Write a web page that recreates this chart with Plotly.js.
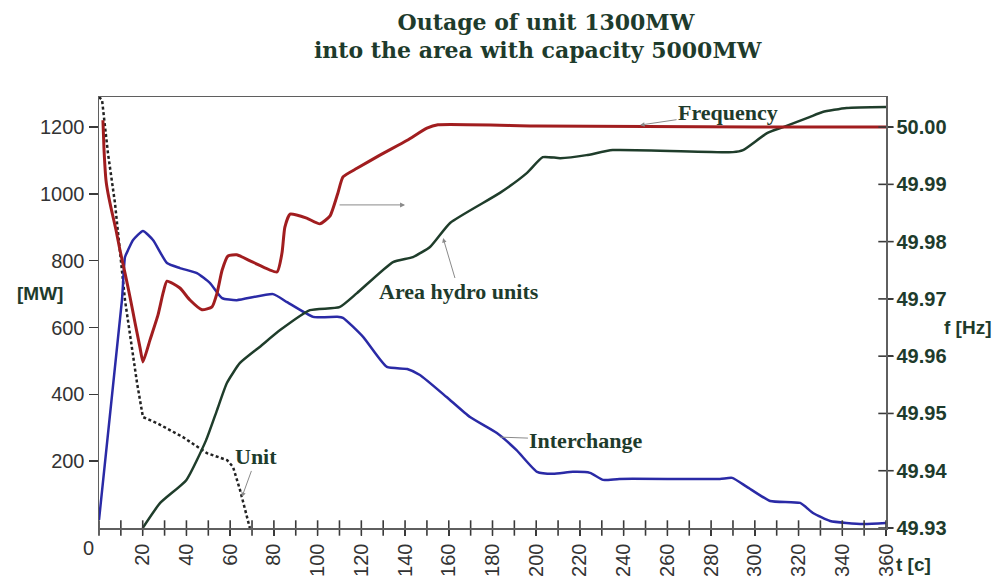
<!DOCTYPE html>
<html><head><meta charset="utf-8">
<script src="https://cdn.plot.ly/plotly-3.0.1.min.js"></script>
<style>html,body{margin:0;padding:0;background:#fff}#chart{width:1001px;height:587px}</style>
</head><body><div id="chart"></div>
<script>
// ---- data (time in s, power in MW, frequency in Hz) ----
const unitT  = [0, 1.4, 4.1, 7.3, 11.9, 17.4, 20.1, 26.5, 38.4, 49.4, 58.6, 61.3, 64.5, 69];
const unitMW = [1290, 1281, 1122, 973, 682, 434, 332, 314, 272, 224, 203, 183, 114, 0];

const interT  = [0, 10.5, 11.9, 13.3, 15.6, 20.1, 24.7, 31.1, 37, 44.8, 50.8, 56.3, 63, 79.6, 86, 98, 109, 111.6, 120.8, 131.7, 141, 146.8, 159, 169.7, 182, 191, 200.4, 207.7, 216.8, 224.6, 230.6, 238, 284, 289.6, 296.4, 307, 320.7, 326.6, 334.4, 349.5, 360];
const interMW = [24, 682, 811, 832, 862, 889, 862, 793, 778, 763, 733, 688, 682, 700, 676, 632, 632, 629, 572, 482, 476, 458, 392, 332, 284, 233, 168, 162, 168, 165, 144, 147, 147, 150, 123, 81, 75, 45, 21, 12, 15];

const hydroT  = [20, 28, 40, 49, 54, 58.5, 64.5, 73.5, 83, 96.5, 110, 118, 134.5, 143.6, 151.4, 160.6, 183.4, 195.8, 203, 211, 223, 235, 290, 294.6, 305.6, 313, 325, 331, 342, 360];
const hydroMW = [0, 75, 144, 263, 353, 434, 494, 542, 593, 652, 661, 703, 796, 811, 841, 913, 1003, 1063, 1110, 1107, 1116, 1131, 1125, 1131, 1182, 1200, 1230, 1245, 1257, 1260];

const freqT  = [1.8, 2.3, 3.2, 4.1, 5.9, 7.8, 9.6, 11.9, 14.2, 16.5, 18.8, 20.1, 23.3, 27, 29.3, 31.1, 37, 41.6, 47.1, 51.7, 54, 56.3, 59, 63, 70.4, 81.4, 83.7, 85, 87.4, 95, 101, 105.7, 109.3, 111.6, 118, 128.5, 141, 150, 155, 200, 250, 300, 360];
const freqHz = [50.0012, 49.9960, 49.9907, 49.9885, 49.9852, 49.9820, 49.9785, 49.9745, 49.9703, 49.9658, 49.9614, 49.9590, 49.9628, 49.9672, 49.9710, 49.9731, 49.9719, 49.9698, 49.9681, 49.9686, 49.9710, 49.9750, 49.9775, 49.9777, 49.9764, 49.9747, 49.9780, 49.9825, 49.9848, 49.9841, 49.9831, 49.9845, 49.9885, 49.9913, 49.9928, 49.9951, 49.9977, 49.9998, 50.0004, 50.0002, 50.0001, 50.0000, 50.0000];

// ---- axis ticks ----
const xTicks = [20,40,60,80,100,120,140,160,180,200,220,240,260,280,300,320,340,360];
const xMinor = [0,10,20,30,40,50,60,70,80,90,100,110,120,130,140,150,160,170,180,190,200,210,220,230,240,250,260,270,280,290,300,310,320,330,340,350,360];
const yTicks = [200,400,600,800,1000,1200];
const fTicks = [49.93,49.94,49.95,49.96,49.97,49.98,49.99,50.00];
const fTickText = ['49.93','49.94','49.95','49.96','49.97','49.98','49.99','50.00'];

// ---- styling ----
const RED = '#a11d1f', BLUE = '#2a2aa6', GREEN = '#1f3d2b', BLACK = '#222222';
const SERIF = 'Liberation Serif, Times New Roman, serif';
const TSERIF = 'DejaVu Serif, Liberation Serif, serif';
const SANS = 'Liberation Sans, Arial, sans-serif';
const LABEL = '#1e3b2c';
const AXC = '#5f5f5f';
const TICKC = '#3a3a3a';

const X_MAX = 360, PLOT_W = 787;           // plot width in px
const LEFT_TICK_PX = 9;                     // outward tick length on the MW axis
const leftTickX = -(LEFT_TICK_PX / 2) * X_MAX / PLOT_W;

const yMax = 1290;
const fMin = 49.93, fMax = 49.93 + 0.07 * yMax / 1200;

const tickMarker = (sym, size) => ({symbol:sym, size:size, color:TICKC, line:{color:TICKC, width:1.6}});

const traces = [
  {x: unitT, y: unitMW, type:'scatter', mode:'lines', name:'Unit', xaxis:'x', yaxis:'y',
   line:{color:BLACK, width:2.5, dash:'3px,2.5px'}},
  {x: interT, y: interMW, type:'scatter', mode:'lines', name:'Interchange', xaxis:'x', yaxis:'y',
   line:{color:BLUE, width:2.5, shape:'spline', smoothing:0.5}},
  {x: hydroT, y: hydroMW, type:'scatter', mode:'lines', name:'Area hydro units', xaxis:'x', yaxis:'y',
   line:{color:GREEN, width:2.5, shape:'spline', smoothing:0.5}},
  {x: freqT, y: freqHz, type:'scatter', mode:'lines', name:'Frequency', xaxis:'x', yaxis:'y2',
   line:{color:RED, width:3, shape:'spline', smoothing:0.5}},
  // tick marks drawn as markers on the axes
  {x: xMinor, y: xMinor.map(() => 0), type:'scatter', mode:'markers', name:'t ticks', xaxis:'x', yaxis:'y',
   cliponaxis:false, hoverinfo:'skip', marker:tickMarker('line-ns-open', 11)},
  {x: fTicks.map(() => X_MAX), y: fTicks, type:'scatter', mode:'markers', name:'f ticks', xaxis:'x', yaxis:'y2',
   cliponaxis:false, hoverinfo:'skip', marker:tickMarker('line-ew-open', 11)},
  {x: yTicks.map(() => leftTickX), y: yTicks, type:'scatter', mode:'markers', name:'MW ticks', xaxis:'x', yaxis:'y',
   cliponaxis:false, hoverinfo:'skip', marker:tickMarker('line-ew-open', LEFT_TICK_PX)}
];

const annFont = {family:SERIF, size:22, color:LABEL, weight:'bold'};
const arrowCol = '#8a8a8a';

const layout = {
  width:1001, height:587,
  margin:{l:99, r:115, t:97, b:59},
  paper_bgcolor:'#fff', plot_bgcolor:'#fff',
  showlegend:false,
  title:{text:'Outage of unit 1300MW', font:{family:TSERIF, size:22, color:LABEL, weight:'bold'},
         x:546/1001, xanchor:'center', xref:'container', y:1-22/587, yanchor:'middle', yref:'container'},
  xaxis:{range:[0,X_MAX], tickmode:'array', tickvals:xTicks, ticktext:xTicks.map(String), tickangle:-90,
         ticks:'outside', ticklen:6, tickwidth:1.5, tickcolor:TICKC,
         showline:true, linecolor:AXC, linewidth:1.5, mirror:true,
         showgrid:false, zeroline:false,
         tickfont:{family:SANS, size:20, color:'#333'}},
  yaxis:{range:[0,yMax], tickmode:'array', tickvals:yTicks, ticktext:yTicks.map(String),
         ticks:'outside', ticklen:LEFT_TICK_PX, tickwidth:1.5, tickcolor:TICKC,
         showline:true, linecolor:AXC, linewidth:1.5,
         showgrid:false, zeroline:false,
         tickfont:{family:SANS, size:20, color:'#333'}},
  yaxis2:{range:[fMin,fMax], overlaying:'y', side:'right', tickmode:'array', tickvals:fTicks, ticktext:fTickText,
          ticks:'outside', ticklen:5, tickwidth:1.5, tickcolor:TICKC,
          showline:true, linecolor:AXC, linewidth:1.5,
          showgrid:false, zeroline:false,
          tickfont:{family:SANS, size:20, color:LABEL, weight:'bold'}},
  annotations:[
    {text:'into the area with capacity 5000MW', xref:'paper', yref:'paper', x:(538-99)/787, y:(528-50)/431,
     xanchor:'center', yanchor:'middle', showarrow:false, font:{family:TSERIF, size:22, color:LABEL, weight:'bold'}},
    {text:'Frequency', xref:'x', yref:'y', x:247.5, y:1206, ax:88, ay:-13, showarrow:true,
     arrowhead:2, arrowsize:0.9, arrowwidth:1, arrowcolor:arrowCol, font:annFont},
    {text:'', xref:'x', yref:'y', x:140, y:967, ax:-67, ay:0, showarrow:true,
     arrowhead:2, arrowsize:1, arrowwidth:1, arrowcolor:arrowCol},
    {text:'Area hydro units', xref:'x', yref:'y', x:157.4, y:868, ax:16, ay:54, showarrow:true,
     arrowhead:2, arrowsize:0.9, arrowwidth:1, arrowcolor:arrowCol, font:annFont},
    {text:'Interchange', xref:'x', yref:'y', x:183.4, y:272, ax:86, ay:3, showarrow:true,
     arrowhead:0, arrowwidth:1, arrowcolor:arrowCol, font:annFont},
    {text:'Unit', xref:'x', yref:'y', x:65.4, y:93, ax:14.5, ay:-40, showarrow:true,
     arrowhead:2, arrowsize:0.9, arrowwidth:1, arrowcolor:arrowCol, font:annFont},
    {text:'[MW]', xref:'paper', yref:'paper', x:(40-99)/787, y:(528-293)/431, xanchor:'center', yanchor:'middle',
     showarrow:false, font:{family:SANS, size:19, color:LABEL, weight:'bold'}},
    {text:'f [Hz]', xref:'paper', yref:'paper', x:(967-99)/787, y:(528-327)/431, xanchor:'center', yanchor:'middle',
     showarrow:false, font:{family:SANS, size:19, color:LABEL, weight:'bold'}},
    {text:'t [c]', xref:'paper', yref:'paper', x:(913-99)/787, y:(528-564)/431, xanchor:'center', yanchor:'middle',
     showarrow:false, font:{family:SANS, size:19, color:LABEL, weight:'bold'}},
    {text:'0', xref:'paper', yref:'paper', x:(88-99)/787, y:(528-548)/431, xanchor:'center', yanchor:'middle',
     showarrow:false, font:{family:SANS, size:20, color:'#333'}}
  ]
};

Plotly.newPlot('chart', traces, layout, {displayModeBar:false, staticPlot:true});
</script>
</body></html>
